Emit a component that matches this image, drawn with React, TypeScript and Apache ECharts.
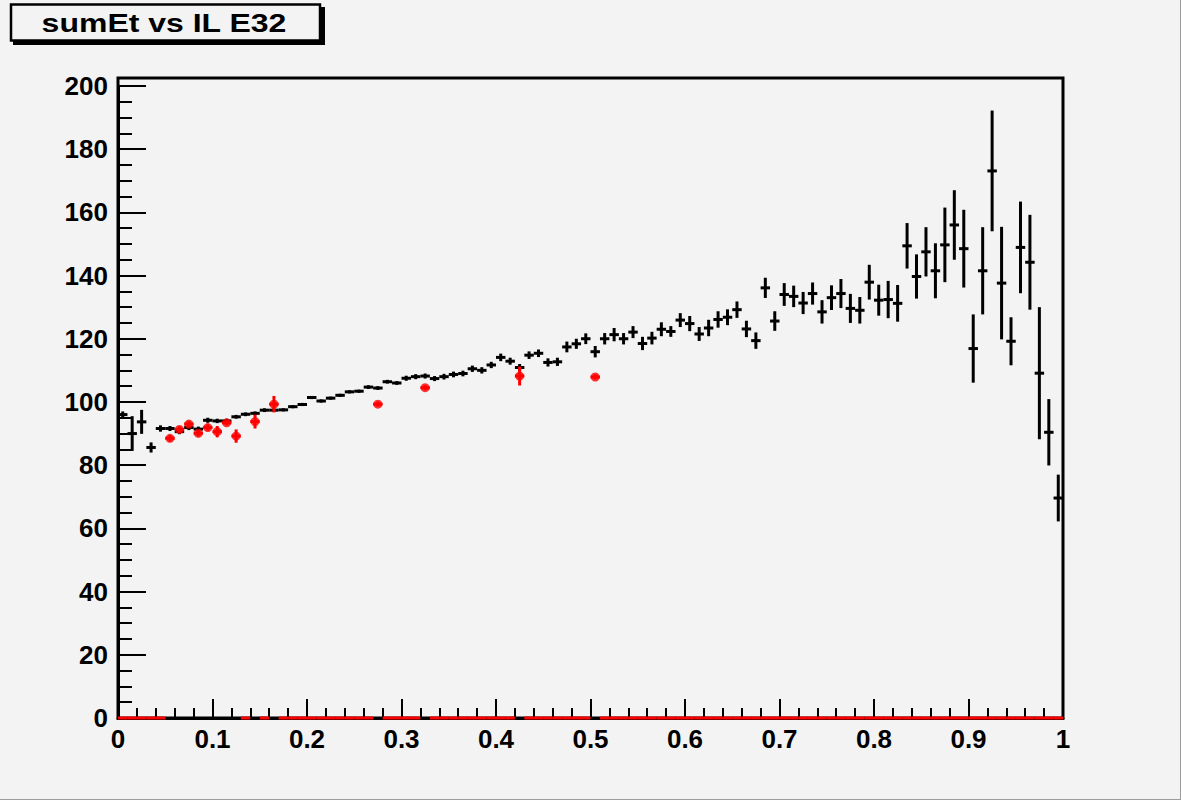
import React, { useEffect, useRef } from "react";
import * as echarts from "echarts";

const BIN_WIDTH = 0.01;
const N_BINS = 100;

// black profile: mean per bin (bins of width 0.01 from 0 to 1)
const blackMeans = [
  96.0, 90.0, 93.7, 85.6, 91.6, 91.6, 90.6, 91.9, 91.4, 94.2,
  94.0, 94.0, 95.3, 96.1, 96.4, 97.4, 97.4, 97.5, 98.5, 99.2,
  101.4, 100.3, 101.2, 102.1, 103.2, 103.4, 104.7, 104.4, 106.4, 106.0,
  107.5, 108.0, 108.2, 107.4, 108.0, 108.7, 109.0, 110.5, 110.0, 111.7,
  114.1, 112.9, 110.9, 114.8, 115.4, 112.5, 112.7, 117.4, 118.4, 120.0,
  115.9, 120.0, 121.3, 120.0, 122.1, 118.5, 120.2, 123.0, 122.3, 125.9,
  124.8, 121.5, 123.4, 126.1, 126.8, 129.2, 123.1, 119.4, 136.1, 125.6,
  134.0, 133.4, 131.3, 134.3, 128.5, 133.0, 134.3, 129.6, 129.0, 137.9,
  132.2, 132.4, 131.2, 149.4, 139.7, 147.5, 141.5, 149.7, 156.0, 148.5,
  116.9, 141.5, 173.1, 137.6, 119.2, 148.9, 144.2, 109.1, 90.4, 69.6,
];
const blackErrors = [
  1.0, 5.5, 3.8, 1.6, 1.0, 0.8, 0.8, 0.8, 0.8, 0.8,
  0.7, 0.7, 0.6, 0.6, 0.6, 0.6, 0.5, 0.5, 0.5, 0.5,
  0.5, 0.5, 0.5, 0.5, 0.5, 0.5, 0.6, 0.6, 0.6, 0.6,
  0.8, 0.8, 0.8, 0.8, 0.9, 0.9, 0.9, 1.0, 1.0, 1.0,
  1.2, 1.1, 1.1, 1.2, 1.2, 1.3, 1.3, 1.7, 1.6, 1.7,
  1.8, 1.8, 2.1, 1.8, 1.9, 2.1, 2.0, 2.2, 1.7, 2.2,
  2.4, 2.2, 2.6, 2.6, 2.5, 2.6, 2.6, 2.6, 3.2, 3.1,
  3.6, 3.4, 3.5, 3.5, 3.7, 3.9, 4.6, 4.6, 4.2, 5.5,
  4.9, 5.9, 5.8, 7.2, 7.0, 7.8, 8.7, 11.8, 11.0, 12.3,
  10.8, 13.8, 19.1, 17.8, 7.6, 14.5, 15.0, 20.9, 10.5, 7.4,
];

// red profile: only these bins are filled, all others are empty (drawn at 0)
const redBins = [5, 6, 7, 8, 9, 10, 11, 12, 14, 16, 27, 32, 42, 50];
const redMeans = [88.5, 91.3, 93.0, 90.1, 91.9, 90.6, 93.4, 89.2, 93.8, 99.3, 99.3, 104.5, 108.2, 107.9];
const redErrors = [1.0, 1.0, 1.0, 1.0, 1.0, 1.8, 0.8, 2.1, 2.2, 2.6, 0.8, 0.8, 3.0, 0.8];

const xTickLabels = ["0", "0.1", "0.2", "0.3", "0.4", "0.5", "0.6", "0.7", "0.8", "0.9", "1"];
const yTickLabels = ["0", "20", "40", "60", "80", "100", "120", "140", "160", "180", "200"];

const TITLE = "sumEt vs IL E32";
const BG = "#f3f3f3";
const FONT = "'Liberation Sans', Arial, Helvetica, sans-serif";

const binCenter = (i: number) => (i + 0.5) * BIN_WIDTH;

const makeErrorRender = (color: string) => (params: any, api: any) => {
  const x = api.value(0);
  const y = api.value(1);
  const e = api.value(2);
  const l = api.coord([x - BIN_WIDTH / 2, y]);
  const r = api.coord([x + BIN_WIDTH / 2, y]);
  const t = api.coord([x, y + e]);
  const b = api.coord([x, y - e]);
  const style = { stroke: color, lineWidth: 3 };
  const children: any[] = [
    { type: "line", shape: { x1: l[0], y1: l[1], x2: r[0], y2: r[1] }, style },
  ];
  if (e > 0) {
    children.push({ type: "line", shape: { x1: t[0], y1: t[1], x2: b[0], y2: b[1] }, style });
  }
  return { type: "group", children };
};

export default function App() {
  const ref = useRef<HTMLDivElement>(null);

  useEffect(() => {
    if (!ref.current) return;
    const chart = echarts.init(ref.current, undefined, { renderer: "svg" });

    const blackData = blackMeans.map((m, i) => [binCenter(i), m, blackErrors[i]]);
    const redData: number[][] = [];
    for (let i = 0; i < N_BINS; i++) {
      const k = redBins.indexOf(i);
      redData.push(k >= 0 ? [binCenter(i), redMeans[k], redErrors[k]] : [binCenter(i), 0, 0]);
    }
    const redPoints = redBins.map((b, k) => [binCenter(b), redMeans[k]]);

    const labelStyle = {
      color: "#000",
      fontFamily: FONT,
      fontWeight: "bold" as const,
      fontSize: 26,
    };

    chart.setOption({
      animation: false,
      backgroundColor: BG,
      grid: [
        // frame
        { left: 118, right: 118, top: 78, bottom: 82, show: true, borderColor: "#000", borderWidth: 3, backgroundColor: "transparent" },
        // data / axes
        { left: 118, right: 118, top: 85.9, bottom: 82, show: false },
      ],
      xAxis: [
        { gridIndex: 0, type: "value", min: 0, max: 1, show: false },
        {
          gridIndex: 1,
          type: "value",
          min: 0,
          max: 1,
          interval: 0.1,
          axisLine: { show: true, lineStyle: { color: "#000", width: 3 } },
          axisTick: { show: true, inside: true, length: 19, lineStyle: { color: "#000", width: 2 } },
          minorTick: { show: true, splitNumber: 5, length: 10, lineStyle: { color: "#000", width: 2 } },
          splitLine: { show: false },
          axisLabel: {
            ...labelStyle,
            margin: 8,
            formatter: (v: number) => xTickLabels[Math.round(v * 10)] ?? "",
          },
        },
      ],
      yAxis: [
        { gridIndex: 0, type: "value", min: 0, max: 202.5, show: false },
        {
          gridIndex: 1,
          type: "value",
          min: 0,
          max: 200,
          interval: 20,
          axisLine: { show: true, lineStyle: { color: "#000", width: 3 } },
          axisTick: { show: true, inside: true, length: 28, lineStyle: { color: "#000", width: 2 } },
          minorTick: { show: true, splitNumber: 4, length: 14, lineStyle: { color: "#000", width: 2 } },
          splitLine: { show: false },
          axisLabel: {
            ...labelStyle,
            margin: 10,
            formatter: (v: number) => yTickLabels[Math.round(v / 20)] ?? "",
          },
        },
      ],
      series: [
        {
          type: "custom",
          name: "black",
          xAxisIndex: 1,
          yAxisIndex: 1,
          renderItem: makeErrorRender("#000"),
          data: blackData,
          clip: false,
          z: 2,
        },
        {
          type: "custom",
          name: "red",
          xAxisIndex: 1,
          yAxisIndex: 1,
          renderItem: makeErrorRender("#ff0000"),
          data: redData,
          clip: false,
          z: 3,
        },
        {
          type: "scatter",
          name: "redPoints",
          xAxisIndex: 1,
          yAxisIndex: 1,
          symbol: "circle",
          symbolSize: 9,
          itemStyle: { color: "#ff0000" },
          data: redPoints,
          z: 4,
        },
      ],
      graphic: [
        { type: "line", shape: { x1: 1180.5, y1: 0, x2: 1180.5, y2: 800 }, style: { stroke: "#9c9c9c", lineWidth: 1 } },
        { type: "line", shape: { x1: 0, y1: 799.5, x2: 1181, y2: 799.5 }, style: { stroke: "#9c9c9c", lineWidth: 1 } },
        { type: "rect", shape: { x: 13, y: 7, width: 312, height: 38 }, style: { fill: "#000" } },
        { type: "rect", shape: { x: 11, y: 4.5, width: 309, height: 36 }, style: { fill: BG, stroke: "#000", lineWidth: 2.5 } },
        {
          type: "text",
          x: 164,
          y: 23,
          scaleX: 1.28,
          style: {
            text: TITLE,
            fill: "#000",
            font: `bold 25px ${FONT}`,
            textAlign: "center",
            textVerticalAlign: "middle",
          },
        },
      ],
    });

    return () => chart.dispose();
  }, []);

  return (
    <div
      ref={ref}
      style={{ position: "absolute", left: 0, top: 0, width: 1181, height: 800 }}
    />
  );
}
